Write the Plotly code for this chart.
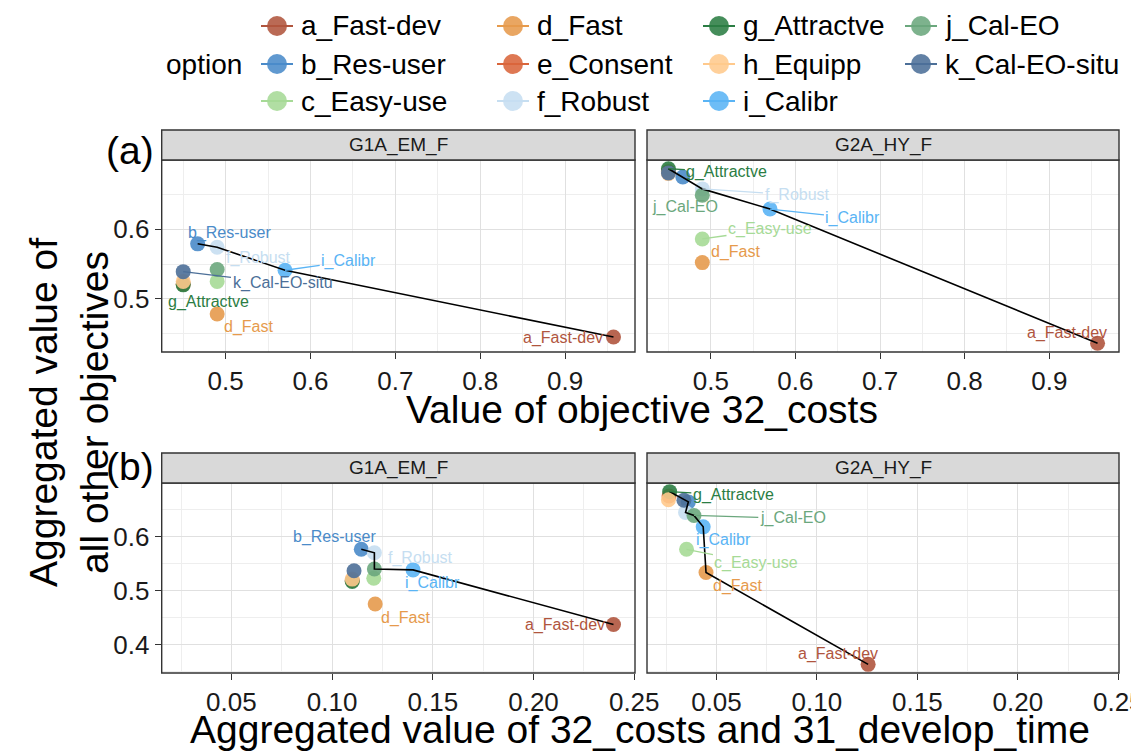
import plotly.graph_objects as go

# ---------------- data ----------------
options = ['a_Fast-dev', 'b_Res-user', 'c_Easy-use', 'd_Fast', 'e_Consent', 'f_Robust',
           'g_Attractve', 'h_Equipp', 'i_Calibr', 'j_Cal-EO', 'k_Cal-EO-situ']
colors = ['#B0553E', '#4A8BC9', '#A6DA96', '#E69A4C', '#D9653B', '#C6DEF1',
          '#2B7D43', '#FFC98C', '#5AB4F5', '#6BA77D', '#4C6F98']

# (a) value of objective 32_costs (same for both groups)
costs_a = [0.957, 0.467, 0.49, 0.49, 0.45, 0.49, 0.45, 0.45, 0.57, 0.49, 0.45]
# (a) aggregated value of all other objectives
g1a_other_a = [0.445, 0.579, 0.525, 0.478, 0.521, 0.574, 0.520, 0.525, 0.541, 0.542, 0.539]
g2a_other_a = [0.436, 0.675, 0.586, 0.552, 0.683, 0.658, 0.687, 0.680, 0.629, 0.649, 0.681]

# (b) aggregated value of 32_costs and 31_develop_time
g1a_costdev_b = [0.2397, 0.1145, 0.1207, 0.1214, 0.1100, 0.1210, 0.1100, 0.1100, 0.1402, 0.1210, 0.1109]
g2a_costdev_b = [0.1255, 0.0360, 0.0351, 0.0448, 0.0264, 0.0346, 0.0267, 0.0261, 0.0434, 0.0388, 0.0338]
# (b) aggregated value of all other objectives
g1a_other_b = [0.4376, 0.5765, 0.523, 0.4756, 0.519, 0.570, 0.517, 0.5215, 0.5385, 0.540, 0.537]
g2a_other_b = [0.364, 0.664, 0.5765, 0.5336, 0.675, 0.6444, 0.683, 0.668, 0.618, 0.639, 0.667]

# Pareto fronts (path order)
front_g1a_a = ['b_Res-user', 'f_Robust', 'i_Calibr', 'a_Fast-dev']
front_g2a_a = ['g_Attractve', 'b_Res-user', 'f_Robust', 'i_Calibr', 'a_Fast-dev']
front_g1a_b = ['b_Res-user', 'f_Robust', 'j_Cal-EO', 'i_Calibr', 'a_Fast-dev']
front_g2a_b = ['g_Attractve', 'b_Res-user', 'f_Robust', 'j_Cal-EO', 'i_Calibr', 'd_Fast', 'a_Fast-dev']

groups = ['G1A_EM_F', 'G2A_HY_F']

# text label placement (layout, data coords), and whether a leader segment is drawn
labels_g1a_a = {'a_Fast-dev': (0.898, 0.444, False), 'b_Res-user': (0.504, 0.595, False),
                'd_Fast': (0.527, 0.459, False), 'f_Robust': (0.539, 0.558, False),
                'g_Attractve': (0.480, 0.495, False), 'i_Calibr': (0.645, 0.554, True),
                'k_Cal-EO-situ': (0.567, 0.522, True)}
labels_g2a_a = {'g_Attractve': (0.519, 0.682, True), 'f_Robust': (0.602, 0.649, True),
                'j_Cal-EO': (0.470, 0.632, False), 'i_Calibr': (0.668, 0.616, True),
                'c_Easy-use': (0.570, 0.600, True), 'd_Fast': (0.529, 0.567, False),
                'a_Fast-dev': (0.921, 0.451, False)}
labels_g1a_b = {'b_Res-user': (0.1013, 0.5985, False), 'f_Robust': (0.1437, 0.560, False),
                'i_Calibr': (0.1498, 0.514, False), 'd_Fast': (0.1366, 0.450, False),
                'a_Fast-dev': (0.2155, 0.436, False)}
labels_g2a_b = {'g_Attractve': (0.0584, 0.676, True), 'j_Cal-EO': (0.0880, 0.6334, True),
                'i_Calibr': (0.0535, 0.5936, False), 'c_Easy-use': (0.0699, 0.5508, True),
                'd_Fast': (0.0604, 0.5079, False), 'a_Fast-dev': (0.1103, 0.3826, False)}

# ---------------- layout helpers ----------------
W, H = 1131, 753
FONT = 'Liberation Sans, Arial, sans-serif'


def fx(x):
    return x / W


def fy(y):
    return 1 - y / H


def expand(vals, f=0.05):
    lo, hi = min(vals), max(vals)
    d = (hi - lo) * f
    return [lo - d, hi + d]


PX_L = (161.7, 635.0)
PX_R = (647.0, 1119.0)
PY_T = (160.0, 352.0)
PY_B = (483.0, 673.0)
STRIP_H = 30

panels = [
    ('', costs_a, g1a_other_a, front_g1a_a, labels_g1a_a, PX_L, PY_T, groups[0]),
    ('2', costs_a, g2a_other_a, front_g2a_a, labels_g2a_a, PX_R, PY_T, groups[1]),
    ('3', g1a_costdev_b, g1a_other_b, front_g1a_b, labels_g1a_b, PX_L, PY_B, groups[0]),
    ('4', g2a_costdev_b, g2a_other_b, front_g2a_b, labels_g2a_b, PX_R, PY_B, groups[1]),
]

xr_top = expand(costs_a)
yr_top = expand(g1a_other_a + g2a_other_a)
xr_bot = expand(g1a_costdev_b + g2a_costdev_b)
yr_bot = expand(g1a_other_b + g2a_other_b)

fig = go.Figure()
annotations = []
shapes = []

for suf, xs, ys, front, labs, xpix, ypix, grp in panels:
    xa, ya = 'x' + suf, 'y' + suf
    fig.add_trace(go.Scatter(x=xs, y=ys, mode='markers', xaxis=xa, yaxis=ya,
                             marker=dict(size=15, color=colors, opacity=0.9, line=dict(width=0)),
                             showlegend=False, hoverinfo='skip'))
    fx_ = [xs[options.index(o)] for o in front]
    fy_ = [ys[options.index(o)] for o in front]
    fig.add_trace(go.Scatter(x=fx_, y=fy_, mode='lines', xaxis=xa, yaxis=ya,
                             line=dict(color='black', width=1.6), showlegend=False, hoverinfo='skip'))
    for name, (lx, ly, seg) in labs.items():
        i = options.index(name)
        if seg:
            annotations.append(dict(x=xs[i], y=ys[i], xref=xa, yref=ya, ax=lx, ay=ly,
                                    axref=xa, ayref=ya, text=name, showarrow=True, arrowhead=0,
                                    arrowwidth=1.3, arrowcolor=colors[i], standoff=0,
                                    font=dict(family=FONT, size=16, color=colors[i])))
        else:
            annotations.append(dict(x=lx, y=ly, xref=xa, yref=ya, text=name, showarrow=False,
                                    xanchor='center', yanchor='middle',
                                    font=dict(family=FONT, size=16, color=colors[i])))
    shapes.append(dict(type='rect', xref='paper', yref='paper', x0=fx(xpix[0]), x1=fx(xpix[1]),
                       y0=fy(ypix[1]), y1=fy(ypix[0]), line=dict(color='#333333', width=1.4),
                       fillcolor='rgba(0,0,0,0)', layer='above'))
    shapes.append(dict(type='rect', xref='paper', yref='paper', x0=fx(xpix[0]), x1=fx(xpix[1]),
                       y0=fy(ypix[0]), y1=fy(ypix[0] - STRIP_H), line=dict(color='#333333', width=1.4),
                       fillcolor='#D9D9D9', layer='above'))
    annotations.append(dict(x=fx((xpix[0] + xpix[1]) / 2), y=fy(ypix[0] - STRIP_H / 2),
                            xref='paper', yref='paper', text=grp, showarrow=False,
                            xanchor='center', yanchor='middle',
                            font=dict(family=FONT, size=19, color='#1A1A1A')))

grid_major = '#E0E0E0'
grid_minor = '#EEEEEE'
tickfont = dict(family=FONT, size=26, color='#1A1A1A')


def xaxis(dom, rng, tv, tt, minor_tv, anchor):
    return dict(domain=dom, range=rng, tickvals=tv, ticktext=tt, ticks='outside', ticklen=6,
                tickwidth=1.3, tickcolor='#333333', tickfont=tickfont, showgrid=True,
                gridcolor=grid_major, gridwidth=1.3, zeroline=False, showline=False,
                anchor=anchor, automargin=False, ticklabeloverflow='allow',
                minor=dict(tickvals=minor_tv, showgrid=True, gridcolor=grid_minor, gridwidth=0.8,
                           ticks=''), fixedrange=True)


def yaxis(dom, rng, tv, tt, minor_tv, show, anchor):
    return dict(domain=dom, range=rng, tickvals=tv, ticktext=tt if show else None,
                showticklabels=show, ticks='outside' if show else '', ticklen=6,
                tickwidth=1.3, tickcolor='#333333', tickfont=tickfont, showgrid=True,
                gridcolor=grid_major, gridwidth=1.3, zeroline=False, showline=False,
                anchor=anchor, automargin=False, ticklabeloverflow='allow',
                minor=dict(tickvals=minor_tv, showgrid=True, gridcolor=grid_minor, gridwidth=0.8,
                           ticks=''), fixedrange=True)


top_xt = [0.5, 0.6, 0.7, 0.8, 0.9]
top_xm = [0.45, 0.55, 0.65, 0.75, 0.85, 0.95]
top_yt = [0.5, 0.6]
top_ym = [0.45, 0.55, 0.65]
bot_xt = [0.05, 0.10, 0.15, 0.20, 0.25]
bot_xm = [0.025, 0.075, 0.125, 0.175, 0.225]
bot_yt = [0.4, 0.5, 0.6]
bot_ym = [0.35, 0.45, 0.55, 0.65]

dxl = [fx(PX_L[0]), fx(PX_L[1])]
dxr = [fx(PX_R[0]), fx(PX_R[1])]
dyt = [fy(PY_T[1]), fy(PY_T[0])]
dyb = [fy(PY_B[1]), fy(PY_B[0])]

fig.update_layout(
    width=W, height=H, autosize=False, margin=dict(l=0, r=0, t=0, b=0, pad=0, autoexpand=False),
    paper_bgcolor='white', plot_bgcolor='white', showlegend=False,
    font=dict(family=FONT),
    xaxis=xaxis(dxl, xr_top, top_xt, [f'{v:.1f}' for v in top_xt], top_xm, 'y'),
    yaxis=yaxis(dyt, yr_top, top_yt, [f'{v:.1f}' for v in top_yt], top_ym, True, 'x'),
    xaxis2=xaxis(dxr, xr_top, top_xt, [f'{v:.1f}' for v in top_xt], top_xm, 'y2'),
    yaxis2=yaxis(dyt, yr_top, top_yt, None, top_ym, False, 'x2'),
    xaxis3=xaxis(dxl, xr_bot, bot_xt, [f'{v:.2f}' for v in bot_xt], bot_xm, 'y3'),
    yaxis3=yaxis(dyb, yr_bot, bot_yt, [f'{v:.1f}' for v in bot_yt], bot_ym, True, 'x3'),
    xaxis4=xaxis(dxr, xr_bot, bot_xt, [f'{v:.2f}' for v in bot_xt], bot_xm, 'y4'),
    yaxis4=yaxis(dyb, yr_bot, bot_yt, None, bot_ym, False, 'x4'),
)

TITLE = dict(family=FONT, size=39, color='black')
annotations += [
    dict(x=fx(642), y=fy(410), xref='paper', yref='paper', text='Value of objective 32_costs',
         xanchor='center', yanchor='middle', showarrow=False, font=TITLE),
    dict(x=fx(640), y=fy(729), xref='paper', yref='paper',
         text='Aggregated value of 32_costs and 31_develop_time',
         xanchor='center', yanchor='middle', showarrow=False, font=TITLE),
    dict(x=fx(69), y=fy(413), xref='paper', yref='paper',
         text='Aggregated value of<br>all other objectives', textangle=-90,
         xanchor='center', yanchor='middle', showarrow=False, font=TITLE),
    dict(x=fx(130), y=fy(150), xref='paper', yref='paper', text='(a)',
         xanchor='center', yanchor='middle', showarrow=False, font=TITLE),
    dict(x=fx(130), y=fy(466), xref='paper', yref='paper', text='(b)',
         xanchor='center', yanchor='middle', showarrow=False, font=TITLE),
]

# manual legend (column-major, 3 rows)
leg_cols = [277, 513, 719, 921]
leg_rows = [26, 64, 101]
LEGFONT = dict(family=FONT, size=28, color='black')
annotations.append(dict(x=fx(164), y=fy(64), xref='paper', yref='paper', text='option',
                        xanchor='left', yanchor='middle', showarrow=False, font=LEGFONT))
for i, name in enumerate(options):
    cx = leg_cols[i // 3]
    cy = leg_rows[i % 3]
    shapes.append(dict(type='line', xref='paper', yref='paper', x0=fx(cx - 16), x1=fx(cx + 16),
                       y0=fy(cy), y1=fy(cy), line=dict(color=colors[i], width=2)))
    shapes.append(dict(type='circle', xref='paper', yref='paper', xsizemode='pixel',
                       ysizemode='pixel', xanchor=fx(cx), yanchor=fy(cy), x0=-10, x1=10,
                       y0=-10, y1=10, fillcolor=colors[i], line=dict(width=0), opacity=0.88))
    annotations.append(dict(x=fx(cx + 22), y=fy(cy), xref='paper', yref='paper', text=name,
                            xanchor='left', yanchor='middle', showarrow=False, font=LEGFONT))

fig.update_layout(annotations=annotations, shapes=shapes)
fig.write_html('out.html', config={'responsive': False})
